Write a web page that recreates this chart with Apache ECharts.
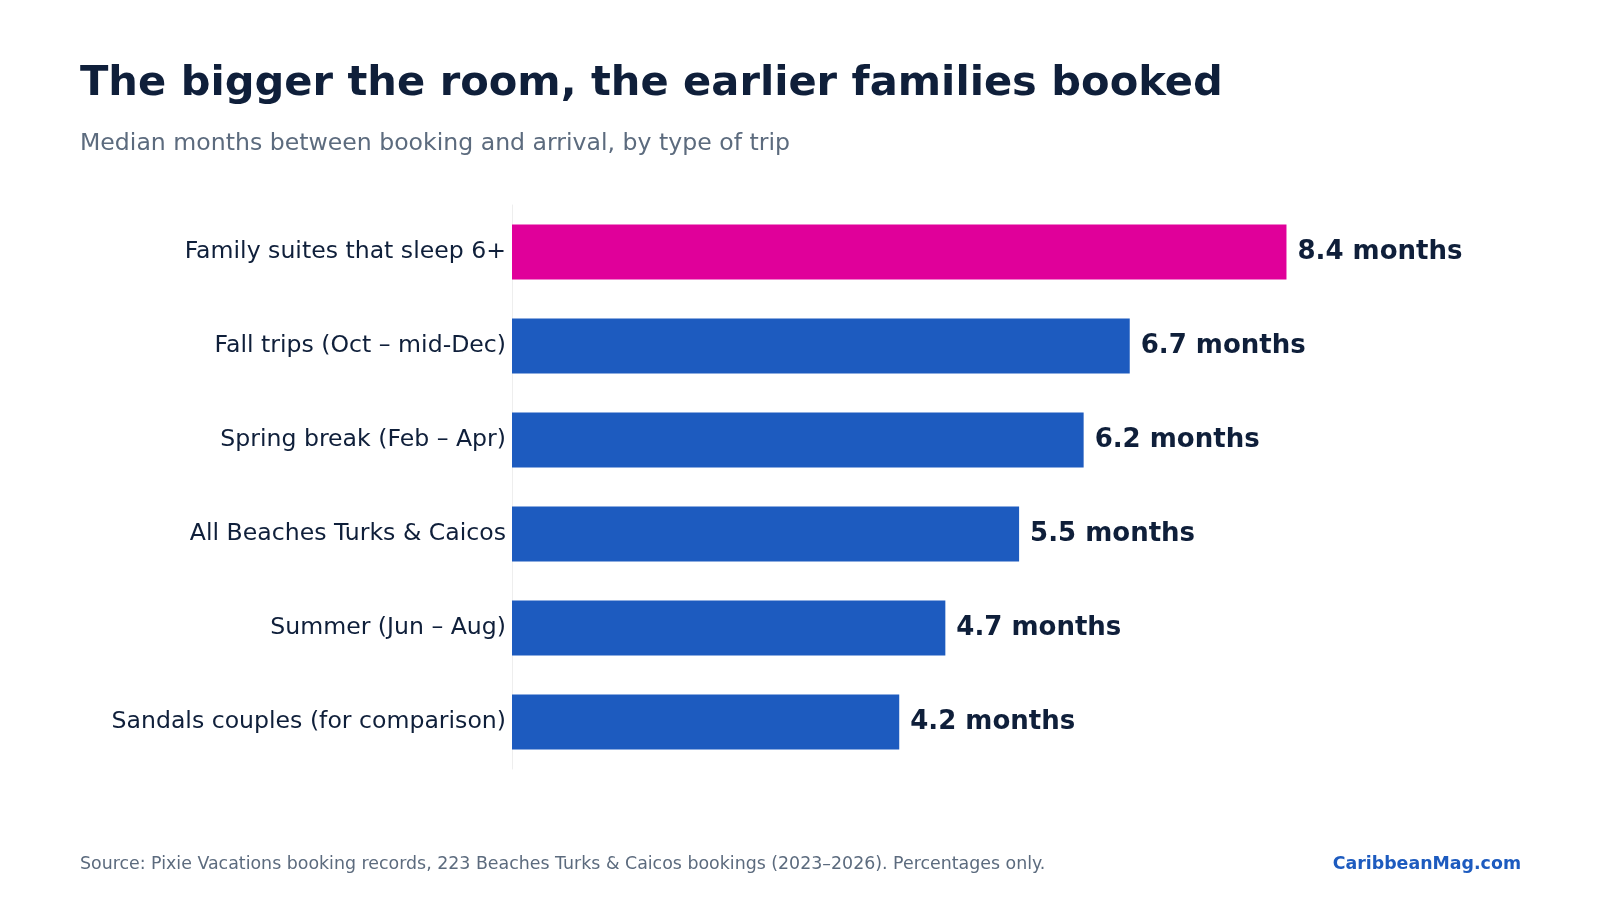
<!DOCTYPE html>
<html><head><meta charset="utf-8">
<script src="https://cdn.jsdelivr.net/npm/echarts@6/dist/echarts.min.js"></script>
<style>html,body{margin:0;background:#fff}#c{width:1600px;height:900px}</style>
</head><body><div id="c"></div>
<script>
const categories = ["Family suites that sleep 6+","Fall trips (Oct – mid-Dec)","Spring break (Feb – Apr)","All Beaches Turks & Caicos","Summer (Jun – Aug)","Sandals couples (for comparison)"];
const values = [8.4, 6.7, 6.2, 5.5, 4.7, 4.2];
const highlight = [true, false, false, false, false, false];

const chart = echarts.init(document.getElementById('c'));
const F = 'DejaVu Sans';
chart.setOption({
  textStyle:{fontFamily:F},
  title:[
    {text:'The bigger the room, the earlier families booked',left:75,top:58,textStyle:{fontFamily:F,fontSize:41.6,fontWeight:'bold',color:'#0f1f3a'}},
    {text:'Median months between booking and arrival, by type of trip',left:75,top:127,textStyle:{fontFamily:F,fontSize:23.6,fontWeight:'normal',color:'#5c6b7e'}},
    {text:'Source: Pixie Vacations booking records, 223 Beaches Turks & Caicos bookings (2023–2026). Percentages only.',left:75,top:851,textStyle:{fontFamily:F,fontSize:17.4,fontWeight:'normal',color:'#5c6b7e'}},
    {text:'CaribbeanMag.com',right:74,top:851,textStyle:{fontFamily:F,fontSize:17.4,fontWeight:'bold',color:'#1d5bbf'}}
  ],
  grid:{left:512,top:205,width:922,height:564},
  xAxis:{type:'value',min:0,max:10,show:true,axisLabel:{show:false},axisTick:{show:false},axisLine:{show:false},splitLine:{show:false}},
  yAxis:{type:'category',inverse:true,data:categories,
    axisLine:{show:true,lineStyle:{color:'#eeeeee'}},axisTick:{show:false},
    axisLabel:{fontFamily:F,fontSize:23.6,color:'#0f1f3a',margin:6}},
  series:[{type:'bar',barWidth:55,
    data:values.map((v,i)=>({value:v,itemStyle:{color:highlight[i]?'#e0009a':'#1d5bbf'}})),
    label:{show:true,position:'right',distance:11,formatter:p=>p.value+' months',fontFamily:F,fontSize:26,fontWeight:'bold',color:'#0f1f3a'}
  }]
});
</script></body></html>
